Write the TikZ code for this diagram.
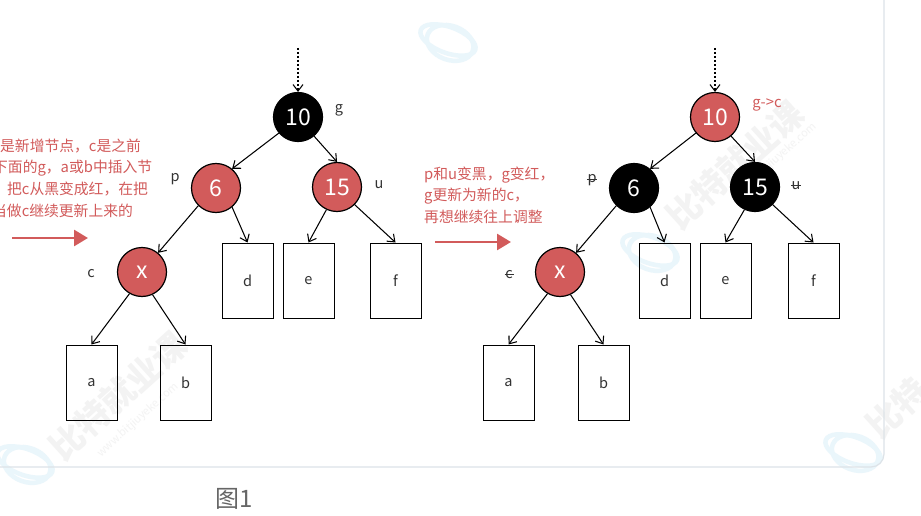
\documentclass[tikz,border=0pt]{standalone}
\usepackage{fontspec}
\setmainfont{Noto Sans CJK SC}
\usetikzlibrary{arrows.meta}
\definecolor{rednode}{HTML}{D25B5B}
\definecolor{cardline}{HTML}{DDE3E8}
\definecolor{wmblue}{HTML}{EAF6FB}
\definecolor{wmgray}{HTML}{F3F3F3}
\tikzset{
  rb/.style={circle,draw=black,line width=1.2pt,minimum size=49pt,inner sep=0pt,font=\fontsize{23}{23}\selectfont},
  rednd/.style={rb,fill=rednode,text=white},
  blacknd/.style={rb,fill=black,text=white},
  leafbox/.style={draw=black,line width=1pt,minimum width=51pt,minimum height=75pt,inner sep=0pt,font=\fontsize{14.5}{14.5}\selectfont,text=black!80},
  edge/.style={draw=black,line width=1.05pt,-{Straight Barb[length=6.5pt,width=10pt]}},
  dotedge/.style={draw=black,line width=1.05pt,dash pattern=on 2pt off 2pt,-{Straight Barb[length=6.5pt,width=10pt,sep=0pt]}},
  lab/.style={inner sep=0pt,font=\fontsize{14.5}{14.5}\selectfont,text=black!80},
  redtxt/.style={inner sep=0pt,anchor=west,font=\fontsize{14.8}{14.8}\selectfont,text=rednode},
  bigarrow/.style={draw=rednode,line width=2.6pt,-{Triangle[length=14pt,width=16pt]}},
  strike/.style={draw=black!80,line width=0.7pt},
  wmring/.style={draw=wmblue,line width=4.5pt},
  wmtext/.style={text=wmgray,rotate=42,font=\bfseries\fontsize{34}{34}\selectfont,inner sep=0pt},
  wmsmall/.style={text=wmgray,rotate=42,font=\fontsize{11}{11}\selectfont,inner sep=0pt}
}
\begin{document}
\begin{tikzpicture}[x=1pt,y=-1pt]
\useasboundingbox (0,0) rectangle (921,516);
\clip (0,0) rectangle (921,516);
\fill[white] (0,0) rectangle (921,516);
% watermarks
\foreach \wx/\wy in {448/40,650/250,25/462,853/450}{
  \draw[wmring,rotate around={-20:(\wx,\wy)}] (\wx,\wy) ellipse (29 and 13);
  \draw[wmring,rotate around={-20:(\wx,\wy)}] (\wx+3,\wy+2) ellipse (24 and 17);
}
\node[wmtext] (w1) at (118,396) {比特就业课};
\node[wmsmall] (w1b) at (138,420) {www.bitjiuyeke.com};
\node[wmtext] (w2) at (735,165) {比特就业课};
\node[wmsmall] (w2b) at (776,160) {www.bitjiuyeke.com};
\node[wmtext] (w3) at (897,408) {比特};
% card
\draw[cardline,line width=1.2pt,rounded corners=13pt] (-20,467) -- (884,467) -- (884,-20);
% left tree
\coordinate (ltop) at (298,48);
\node[blacknd] (lg) at (298,117) {\raisebox{-2pt}{10}};
\node[rednd] (lp) at (216,188) {\raisebox{-2pt}{6}};
\node[rednd] (lu) at (337,187) {\raisebox{-2pt}{15}};
\node[rednd] (lx) at (142,272) {\raisebox{-2pt}{x}};
\node[leafbox] (ld) at (247.5,280.5) {\raisebox{-1pt}{d}};
\node[leafbox] (le) at (308.5,280.5) {\raisebox{-1pt}{e}};
\node[leafbox] (lf) at (395.5,280.5) {\raisebox{-1pt}{f}};
\node[leafbox] (la) at (91.5,382.5) {\raisebox{-1pt}{a}};
\node[leafbox] (lb) at (185.5,382.5) {\raisebox{-1pt}{b}};
\draw[dotedge] (ltop) -- (lg.north);
\draw[edge] (lg.220) -- (lp.50);
\draw[edge] (lg.-50) -- (lu.north);
\draw[edge] (lp.225) -- (lx.50);
\draw[edge] (lp.-50) -- (ld.north);
\draw[edge] (lu.-115) -- (le.north);
\draw[edge] (lu.-45) -- (lf.north);
\draw[edge] (lx.-120) -- (la.north);
\draw[edge] (lx.-65) -- (lb.north);
\node[lab] (tg) at (339,110) {g};
\node[lab] (tp) at (175,179) {p};
\node[lab] (tu) at (379,185) {u};
\node[lab] (tc) at (91,274) {c};
% right tree
\coordinate (rtop) at (715,48);
\node[rednd] (rg) at (715,117) {\raisebox{-2pt}{10}};
\node[blacknd] (rp) at (634,188) {\raisebox{-2pt}{6}};
\node[blacknd] (ru) at (755,187) {\raisebox{-2pt}{15}};
\node[rednd] (rx) at (560,272) {\raisebox{-2pt}{x}};
\node[leafbox] (rd) at (664.5,280.5) {\raisebox{-1pt}{d}};
\node[leafbox] (re) at (725.5,280.5) {\raisebox{-1pt}{e}};
\node[leafbox] (rf) at (813.5,280.5) {\raisebox{-1pt}{f}};
\node[leafbox] (ra) at (508.5,382.5) {\raisebox{-1pt}{a}};
\node[leafbox] (rb) at (603.5,382.5) {\raisebox{-1pt}{b}};
\draw[dotedge] (rtop) -- (rg.north);
\draw[edge] (rg.220) -- (rp.50);
\draw[edge] (rg.-50) -- (ru.north);
\draw[edge] (rp.225) -- (rx.50);
\draw[edge] (rp.-50) -- (rd.north);
\draw[edge] (ru.-115) -- (re.north);
\draw[edge] (ru.-45) -- (rf.north);
\draw[edge] (rx.-120) -- (ra.north);
\draw[edge] (rx.-65) -- (rb.north);
\node[lab] (sp) at (592,180) {p};
\node[lab] (su) at (796,186) {u};
\node[lab] (sc) at (509,275) {c};
\draw[strike] (sp.west) ++(-0.5,-1) -- ++(10,0);
\draw[strike] (su.west) ++(-0.5,-1) -- ++(10,0);
\draw[strike] (sc.west) ++(-0.5,-1) -- ++(9,0);
\node[redtxt,anchor=center] (gc) at (767,105) {g->c};
% annotations
\node[redtxt] (n1) at (0,146) {是新增节点，c是之前};
\node[redtxt] (n2) at (-7,168) {下面的g，a或b中插入节};
\node[redtxt] (n3) at (7,189) {把c从黑变成红，在把};
\node[redtxt] (n4) at (-8,211) {当做c继续更新上来的};
\coordinate (a1s) at (12,238);
\coordinate (a1e) at (88,238);
\draw[bigarrow] (a1s) -- (a1e);
\node[redtxt] (m1) at (424,175) {p和u变黑，g变红，};
\node[redtxt] (m2) at (424,196) {g更新为新的c，};
\node[redtxt] (m3) at (424,217) {再想继续往上调整};
\coordinate (a2s) at (435,242);
\coordinate (a2e) at (511,242);
\draw[bigarrow] (a2s) -- (a2e);
\node[inner sep=0pt,font=\fontsize{24}{24}\selectfont,text=black!60] (cap) at (234,499) {图1};
\end{tikzpicture}
\end{document}
